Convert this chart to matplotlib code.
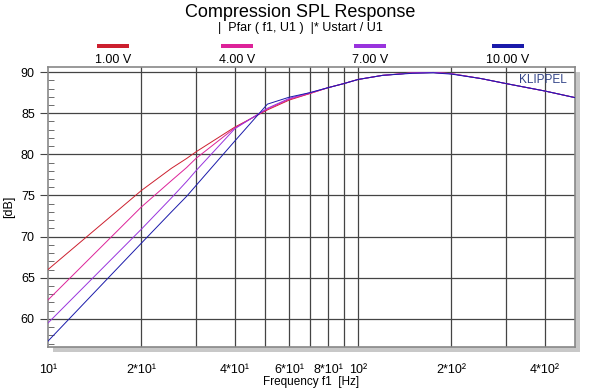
import numpy as np
import matplotlib
matplotlib.use('Agg')
import matplotlib.pyplot as plt
from matplotlib.patches import Rectangle

plt.rcParams['font.family'] = ['Liberation Sans', 'DejaVu Sans']

# Data
freq = [10, 20, 25, 28, 30, 40, 51, 60, 70, 80, 90, 100, 120, 150, 175, 200, 250, 300, 400, 500]
spl_1v = [66.0, 75.6, 78.3, 79.5, 80.3, 83.3, 85.4, 86.6, 87.4, 88.1, 88.6, 89.1, 89.6, 89.9, 89.95, 89.8, 89.2, 88.6, 87.7, 86.9]
spl_4v = [62.3, 73.6, 76.8, 78.4, 79.5, 83.2, 85.5, 86.7, 87.4, 88.1, 88.6, 89.1, 89.6, 89.9, 89.95, 89.8, 89.2, 88.6, 87.7, 86.9]
spl_7v = [59.5, 70.9, 74.7, 76.7, 78.0, 83.1, 85.6, 86.8, 87.5, 88.1, 88.6, 89.1, 89.6, 89.9, 89.95, 89.8, 89.2, 88.6, 87.7, 86.9]
spl_10v = [57.3, 69.2, 73.0, 74.9, 76.2, 81.6, 86.1, 86.95, 87.5, 88.1, 88.6, 89.1, 89.6, 89.85, 89.9, 89.75, 89.2, 88.6, 87.7, 86.9]

labels = ['1.00 V', '4.00 V', '7.00 V', '10.00 V']
colors = ['#cc1f2e', '#dd2299', '#9933dd', '#1a1aaa']
series = [spl_1v, spl_4v, spl_7v, spl_10v]

grid_x = [20, 30, 40, 50, 60, 70, 80, 90, 100, 200, 300, 400]
xtick_pos = [10, 20, 40, 60, 80, 100, 200, 400]
xtick_lab = ['10¹', '2*10¹', '4*10¹', '6*10¹', '8*10¹', '10²', '2*10²', '4*10²']

fig = plt.figure(figsize=(6, 3.88), dpi=100)
ax = fig.add_axes([0.08, 0.106, 0.878, 0.721])

# drop shadow behind the plot frame
fig.patches.append(Rectangle((0.088, 0.093), 0.878, 0.721, transform=fig.transFigure,
                             facecolor='#c8c8c8', edgecolor='none', zorder=0))
ax.set_zorder(1)

for vals, c in zip(series, colors):
    ax.plot(freq, vals, color=c, lw=0.7, zorder=3)

ax.set_xscale('log')
ax.set_xlim(10, 500)
ax.set_ylim(56.6, 90.6)

for gx in grid_x:
    ax.axvline(gx, color='#444444', lw=0.9, zorder=1)
for gy in range(60, 91, 5):
    ax.axhline(gy, color='#444444', lw=0.9, zorder=1)

ax.set_xticks(xtick_pos)
ax.set_xticklabels(xtick_lab, fontsize=9)
ax.xaxis.set_minor_locator(plt.NullLocator())
ax.tick_params(axis='x', length=0, pad=12)

ax.set_yticks(range(60, 91, 5))
ax.set_yticks(np.arange(57, 91, 1), minor=True)
ax.tick_params(axis='y', which='major', length=6, direction='out', labelsize=9, color='#444444')
ax.tick_params(axis='y', which='minor', length=4, direction='in', color='#555555')

for s in ax.spines.values():
    s.set_color('#888888')
    s.set_linewidth(1.2)

ax.set_xlabel('Frequency f1  [Hz]', fontsize=8.5, labelpad=0)
ax.set_ylabel('[dB]', fontsize=9)

ax.text(0.985, 0.975, 'KLIPPEL', transform=ax.transAxes, ha='right', va='top',
        fontsize=8.5, color='#334488')

fig.text(0.5, 0.968, 'Compression SPL Response', ha='center', va='center', fontsize=13)
fig.text(0.5, 0.928, '|  Pfar ( f1, U1 )  |* Ustart / U1', ha='center', va='center', fontsize=9)

# legend swatches above the plot
leg_x = [113, 237, 370, 508]
for lx, lab, c in zip(leg_x, labels, colors):
    fig.patches.append(Rectangle(((lx - 16) / 600, 1 - 48 / 388), 32 / 600, 4 / 388,
                                 transform=fig.transFigure, facecolor=c, edgecolor='none'))
    fig.text(lx / 600, 1 - 60 / 388, lab, ha='center', va='center', fontsize=9)

fig.savefig('out.png', dpi=100)
